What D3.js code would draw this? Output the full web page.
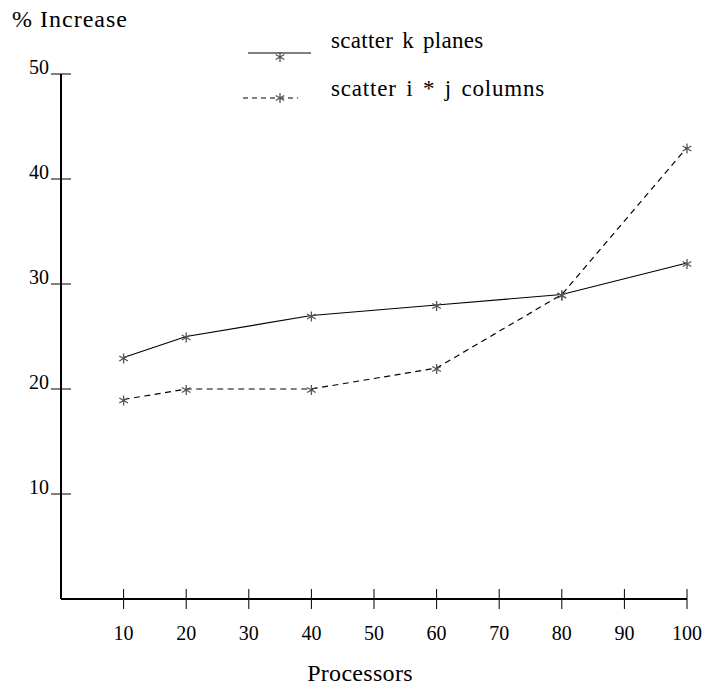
<!DOCTYPE html>
<html>
<head>
<meta charset="utf-8">
<script src="https://cdn.jsdelivr.net/npm/d3@7"></script>
<style>
  body { margin: 0; background: #fff; }
</style>
</head>
<body>
<div id="chart"></div>
<script>
// data
const processors = [10, 20, 40, 60, 80, 100];
const kPlanes = [23, 25, 27, 28, 29, 32];
const ijColumns = [19, 20, 20, 22, 29, 43];
const xTicks = [10, 20, 30, 40, 50, 60, 70, 80, 90, 100];
const yTicks = [10, 20, 30, 40, 50];
const seriesNames = ["scatter k planes", "scatter i * j columns"];

const width = 704, height = 688;
const serif = "'Liberation Serif', 'Times New Roman', Times, serif";

const svg = d3.select("#chart")
    .append("svg")
    .attr("width", width)
    .attr("height", height)
    .attr("font-family", serif);

const x = d3.scaleLinear().domain([0, 100]).range([61, 687]);
const y = d3.scaleLinear().domain([0, 50]).range([599, 74]);

// axis lines
svg.append("line")
    .attr("x1", x(0)).attr("x2", x(100))
    .attr("y1", y(0)).attr("y2", y(0))
    .attr("stroke", "#000").attr("stroke-width", 2);
svg.append("line")
    .attr("x1", x(0)).attr("x2", x(0))
    .attr("y1", y(0)).attr("y2", y(50))
    .attr("stroke", "#000").attr("stroke-width", 2);

// x ticks cross the axis
const xt = svg.selectAll(".xtick").data(xTicks).enter().append("g").attr("class", "xtick");
xt.append("line")
    .attr("x1", d => x(d)).attr("x2", d => x(d))
    .attr("y1", y(0) - 10).attr("y2", y(0) + 10)
    .attr("stroke", "#000").attr("stroke-width", 1);
xt.append("text")
    .attr("x", d => x(d))
    .attr("y", 640)
    .attr("text-anchor", "middle")
    .attr("font-size", 20)
    .text(d => d);

// y ticks, label sits on the tick like an underline
const yt = svg.selectAll(".ytick").data(yTicks).enter().append("g").attr("class", "ytick");
yt.append("line")
    .attr("x1", x(0) - 10).attr("x2", x(0) + 10)
    .attr("y1", d => y(d)).attr("y2", d => y(d))
    .attr("stroke", "#000").attr("stroke-width", 1);
yt.append("text")
    .attr("x", x(0) - 12)
    .attr("y", d => y(d))
    .attr("text-anchor", "end")
    .attr("font-size", 20)
    .text(d => d);

// axis titles
svg.append("text").attr("x", 12).attr("y", 27)
    .attr("font-size", 24).attr("letter-spacing", 1).text("% Increase");
svg.append("text").attr("x", 360).attr("y", 681)
    .attr("text-anchor", "middle")
    .attr("font-size", 24).attr("letter-spacing", 0.3).text("Processors");

// asterisk marker
function asterisk(cx, cy) {
    const r = 5;
    let p = "";
    for (let k = 0; k < 3; k++) {
        const a = Math.PI / 2 + k * Math.PI / 3;
        const dx = r * Math.cos(a), dy = r * Math.sin(a);
        p += `M${cx - dx},${cy - dy}L${cx + dx},${cy + dy}`;
    }
    return p;
}

const line = d3.line().x(d => x(d[0])).y(d => y(d[1]));
const series = [
    { name: seriesNames[0], values: kPlanes, dash: null },
    { name: seriesNames[1], values: ijColumns, dash: "6,4.5" }
];

series.forEach(s => {
    const pts = processors.map((p, i) => [p, s.values[i]]);
    svg.append("path")
        .attr("d", line(pts))
        .attr("fill", "none")
        .attr("stroke", "#000")
        .attr("stroke-width", 1.2)
        .attr("stroke-dasharray", s.dash);
    svg.selectAll(null).data(pts).enter().append("path")
        .attr("d", d => asterisk(x(d[0]), y(d[1]) + 1))
        .attr("stroke", "#555")
        .attr("stroke-width", 1.3)
        .attr("fill", "none");
});

// legend
const legend = [
    { y: 53, x1: 248, x2: 311, starY: 57, textY: 48, ls: 0.3 },
    { y: 98, x1: 243, x2: 298, starY: 98, textY: 96, ls: 0.8 }
];
series.forEach((s, i) => {
    const l = legend[i];
    svg.append("line")
        .attr("x1", l.x1).attr("x2", l.x2)
        .attr("y1", l.y).attr("y2", l.y)
        .attr("stroke", "#000").attr("stroke-width", 1.2)
        .attr("stroke-dasharray", s.dash ? "5,4" : null);
    svg.append("path")
        .attr("d", asterisk(280, l.starY))
        .attr("stroke", "#555").attr("stroke-width", 1.3).attr("fill", "none");
    svg.append("text")
        .attr("x", 331).attr("y", l.textY)
        .attr("font-size", 23)
        .attr("letter-spacing", l.ls)
        .attr("word-spacing", 3)
        .text(s.name);
});
</script>
</body>
</html>
